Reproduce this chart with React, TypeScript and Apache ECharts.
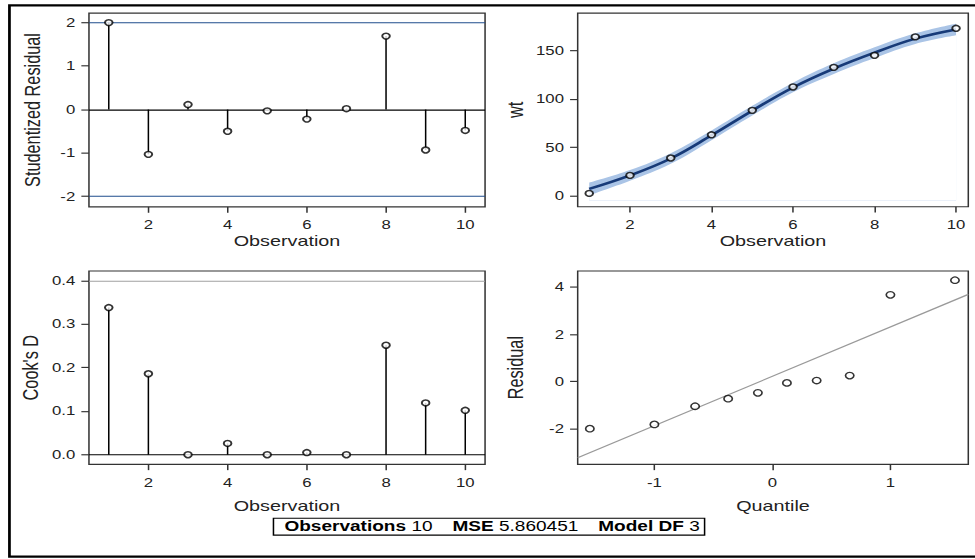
import React, { useEffect, useRef } from "react";
import * as echarts from "echarts";

// ---------- data ----------
const observations = [1, 2, 3, 4, 5, 6, 7, 8, 9, 10];
const studentizedResidual = [2.0, -1.03, 0.115, -0.5, -0.03, -0.22, 0.02, 1.69, -0.93, -0.48];
const wt = [2.4, 21, 39, 63, 88.3, 112.5, 132.8, 145.2, 164.3, 173.2];
const wtFit = [7, 21, 38.5, 62.5, 88, 112, 131.5, 148, 162.5, 172];
const wtLower = [0.5, 15.5, 33, 57.5, 83, 107, 126, 142.5, 157, 166];
const wtUpper = [13.5, 26.5, 44, 67.5, 93, 117, 137, 153.5, 168, 178];
const cooksD = [0.338, 0.186, 0.0, 0.026, 0.0, 0.005, 0.0, 0.2515, 0.119, 0.102];
const normalQuantile = [-1.547, -1.0, -0.655, -0.375, -0.123, 0.123, 0.375, 0.655, 1.0, 1.547];
const residualSorted = [-2.0, -1.82, -1.05, -0.73, -0.48, -0.06, 0.04, 0.25, 3.67, 4.29];
const qqLineX = [-1.65, 1.66];
const qqLineY = [-3.23, 3.69];

const obsTicks = [2, 4, 6, 8, 10];
const studTicks = [-2, -1, 0, 1, 2];
const wtTicks = [0, 50, 100, 150];
const cookTicks = [0, 0.1, 0.2, 0.3, 0.4];
const quantileTicks = [-1, 0, 1];
const residualTicks = [-2, 0, 2, 4];
const studRefLines = [-2, 2];
const cookRefLine = 0.4;

const footerObservations = "10";
const footerMSE = "5.860451";
const footerModelDF = "3";

// ---------- layout (drawn at 640x480, stretched to 975x559) ----------
const W0 = 640;
const H0 = 480;
const FONT = "'Liberation Sans', Arial, Helvetica, sans-serif";
const TEXT = "#222";
const FRAME = "#333";
const BAND_BASE = -5; // area origin inside the wt panel, below the band

function valueAxis(
  gridIndex: number,
  min: number,
  max: number,
  ticks: number[],
  name: string,
  nameGap: number,
  nameSize: number,
  margin: number,
  fmt?: (v: number) => string
) {
  return {
    type: "value",
    gridIndex,
    min,
    max,
    name,
    nameLocation: "middle",
    nameGap,
    nameTextStyle: { fontSize: nameSize, color: TEXT, fontFamily: FONT },
    axisLine: { show: false, onZero: false },
    axisTick: { show: true, length: 5, lineStyle: { color: FRAME, width: 1 }, customValues: ticks },
    axisLabel: {
      customValues: ticks,
      fontSize: 11,
      color: TEXT,
      fontFamily: FONT,
      margin,
      formatter: fmt ? (v: number) => fmt(v) : undefined,
    },
    splitLine: { show: false },
  };
}

const grids = [
  { left: 58.4, top: 11.2, width: 260, height: 166.5 },
  { left: 379.2, top: 11.2, width: 256.4, height: 166.3 },
  { left: 58.4, top: 232.7, width: 260, height: 166 },
  { left: 379.2, top: 232.7, width: 256.4, height: 166 },
].map((g) => ({ ...g, show: true, borderColor: FRAME, borderWidth: 1, backgroundColor: "transparent", outerBoundsMode: "none" }));

const pairs = (xs: number[], ys: number[]) => xs.map((x, i) => [x, ys[i]]);

const markerStyle = { color: "#fff", borderColor: "#000", borderWidth: 1.3 };

const option: any = {
  animation: false,
  backgroundColor: "#fff",
  grid: grids,
  xAxis: [
    valueAxis(0, 0.5, 10.5, obsTicks, "Observation", 23, 13, 10),
    valueAxis(1, 0.717, 10.3, obsTicks, "Observation", 23, 13, 10),
    valueAxis(2, 0.5, 10.5, obsTicks, "Observation", 29, 13, 10),
    valueAxis(3, -1.65, 1.66, quantileTicks, "Quantile", 29, 13, 10),
  ],
  yAxis: [
    valueAxis(0, -2.24, 2.22, studTicks, "Studentized Residual", 30, 14, 9),
    valueAxis(1, -11.4, 189, wtTicks, "wt", 34, 14, 9),
    valueAxis(2, -0.022, 0.422, cookTicks, "Cook's D", 31, 14, 9, (v) => v.toFixed(1)),
    valueAxis(3, -3.51, 4.68, residualTicks, "Residual", 34, 14, 9),
  ],
  series: [
    // Panel 1: studentized residual stems
    {
      type: "bar",
      xAxisIndex: 0,
      yAxisIndex: 0,
      data: pairs(observations, studentizedResidual),
      barWidth: 1,
      itemStyle: { color: "#000" },
      silent: true,
    },
    {
      type: "scatter",
      xAxisIndex: 0,
      yAxisIndex: 0,
      data: pairs(observations, studentizedResidual),
      symbol: "circle",
      symbolSize: 5,
      itemStyle: markerStyle,
      z: 5,
      silent: true,
      markLine: {
        silent: true,
        symbol: ["none", "none"],
        label: { show: false },
        data: [
          { yAxis: 0, lineStyle: { color: "#000", width: 1, type: "solid" } },
          ...studRefLines.map((v) => ({ yAxis: v, lineStyle: { color: "#1f4c8c", width: 1, type: "solid" } })),
        ],
      },
    },
    // Panel 2: confidence band = upper area (blue) masked by lower area (white)
    {
      type: "line",
      xAxisIndex: 1,
      yAxisIndex: 1,
      data: pairs(observations, wtUpper),
      symbol: "none",
      smooth: 0.4,
      lineStyle: { width: 0, opacity: 0 },
      areaStyle: { color: "#aac4e6", opacity: 1, origin: BAND_BASE },
      z: 1,
      silent: true,
    },
    {
      type: "line",
      xAxisIndex: 1,
      yAxisIndex: 1,
      data: pairs(observations, wtLower),
      symbol: "none",
      smooth: 0.4,
      lineStyle: { width: 0, opacity: 0 },
      areaStyle: { color: "#ffffff", opacity: 1, origin: BAND_BASE },
      z: 2,
      silent: true,
    },
    {
      type: "line",
      xAxisIndex: 1,
      yAxisIndex: 1,
      data: pairs(observations, wtFit),
      symbol: "none",
      smooth: 0.4,
      lineStyle: { color: "#173a78", width: 2.2 },
      z: 3,
      silent: true,
    },
    {
      type: "scatter",
      xAxisIndex: 1,
      yAxisIndex: 1,
      data: pairs(observations, wt),
      symbol: "circle",
      symbolSize: 5,
      itemStyle: markerStyle,
      z: 5,
      silent: true,
    },
    // Panel 3: Cook's D stems
    {
      type: "bar",
      xAxisIndex: 2,
      yAxisIndex: 2,
      data: pairs(observations, cooksD),
      barWidth: 1,
      itemStyle: { color: "#000" },
      silent: true,
    },
    {
      type: "scatter",
      xAxisIndex: 2,
      yAxisIndex: 2,
      data: pairs(observations, cooksD),
      symbol: "circle",
      symbolSize: 5,
      itemStyle: markerStyle,
      z: 5,
      silent: true,
      markLine: {
        silent: true,
        symbol: ["none", "none"],
        label: { show: false },
        data: [
          { yAxis: 0, lineStyle: { color: "#000", width: 1, type: "solid" } },
          { yAxis: cookRefLine, lineStyle: { color: "#a0a0a0", width: 1, type: "solid" } },
        ],
      },
    },
    // Panel 4: Q-Q plot
    {
      type: "line",
      xAxisIndex: 3,
      yAxisIndex: 3,
      data: pairs(qqLineX, qqLineY),
      symbol: "none",
      lineStyle: { color: "#9a9a9a", width: 1 },
      silent: true,
    },
    {
      type: "scatter",
      xAxisIndex: 3,
      yAxisIndex: 3,
      data: pairs(normalQuantile, residualSorted),
      symbol: "circle",
      symbolSize: 5.5,
      itemStyle: { color: "#fff", borderColor: "#000", borderWidth: 1.1 },
      z: 5,
      silent: true,
    },
  ],
  graphic: [
    {
      type: "rect",
      shape: { x: 6.2, y: 4.6, width: 700, height: 473.4 },
      style: { fill: "none", stroke: "#000", lineWidth: 1.8 },
      silent: true,
    },
    {
      type: "rect",
      shape: { x: 179.5, y: 445, width: 283, height: 14.5 },
      style: { fill: "#fff", stroke: "#000", lineWidth: 1 },
      silent: true,
    },
    {
      type: "text",
      x: 323,
      y: 452.3,
      silent: true,
      style: {
        text:
          "{b|Observations}{n|" + footerObservations + "}{b|MSE}{n|" + footerMSE + "}{b|Model DF}{l|" + footerModelDF + "}",
        fontSize: 12.5,
        fontFamily: FONT,
        fill: "#000",
        align: "center",
        verticalAlign: "middle",
        rich: {
          b: { fontWeight: "bold", fontSize: 12.5, fontFamily: FONT, padding: [0, 3.5, 0, 0] },
          n: { fontSize: 12.5, fontFamily: FONT, padding: [0, 13, 0, 0] },
          l: { fontSize: 12.5, fontFamily: FONT },
        },
      },
    },
  ],
};

export default function App() {
  const ref = useRef<HTMLDivElement>(null);
  useEffect(() => {
    document.body.style.margin = "0";
    const chart = echarts.init(ref.current as HTMLDivElement, undefined, {
      renderer: "svg",
      width: W0,
      height: H0,
    });
    chart.setOption(option);
    return () => chart.dispose();
  }, []);
  return (
    <div
      style={{
        position: "fixed",
        left: 0,
        top: 0,
        width: 975,
        height: 559,
        overflow: "hidden",
        background: "#fff",
      }}
    >
      <div
        ref={ref}
        style={{
          width: W0,
          height: H0,
          transform: `scale(${975 / W0}, ${559 / H0})`,
          transformOrigin: "0 0",
        }}
      />
    </div>
  );
}
